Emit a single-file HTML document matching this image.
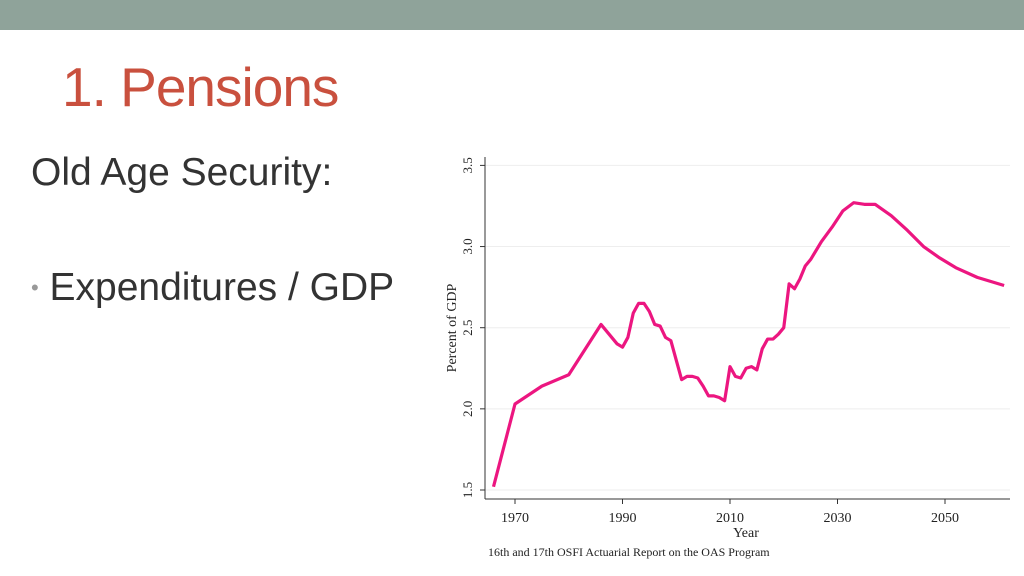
<!DOCTYPE html>
<html><head><meta charset="utf-8"><style>
body{margin:0;width:1024px;height:576px;background:#fff;position:relative;overflow:hidden;font-family:"Liberation Sans",sans-serif}
.bar{position:absolute;left:0;top:0;width:1024px;height:30px;background:#8fa39a}
.title{position:absolute;left:62px;top:55px;font-size:55px;color:#c9503e;letter-spacing:-1px}
.sub{position:absolute;left:31px;top:151px;font-size:39px;color:#333}
.bul{position:absolute;left:31px;top:266px;font-size:39px;color:#333}
svg{position:absolute;left:0;top:0}
svg text{font-family:"Liberation Serif",serif;fill:#222}
</style></head><body>
<div class="bar"></div>
<div class="title">1. Pensions</div>
<div class="sub">Old Age Security:</div>
<div class="bul"><span style="color:#999;font-size:22px;vertical-align:5px">•</span> Expenditures / GDP</div>
<svg id="chart" width="1024" height="576"></svg>
<script>
const years=[1966,1970,1975,1980,1986,1987,1989,1990,1991,1992,1993,1994,1995,1996,1997,1998,1999,2000,2001,2002,2003,2004,2005,2006,2007,2008,2009,2010,2011,2012,2013,2014,2015,2016,2017,2018,2019,2020,2021,2022,2023,2024,2025,2027,2029,2031,2033,2035,2037,2040,2043,2046,2049,2052,2056,2061];
const values=[1.52,2.03,2.14,2.21,2.52,2.48,2.40,2.38,2.44,2.59,2.65,2.65,2.60,2.52,2.51,2.44,2.42,2.30,2.18,2.20,2.20,2.19,2.14,2.08,2.08,2.07,2.05,2.26,2.20,2.19,2.25,2.26,2.24,2.37,2.43,2.43,2.46,2.50,2.77,2.74,2.80,2.88,2.92,3.03,3.12,3.22,3.27,3.26,3.26,3.19,3.10,3.00,2.93,2.87,2.81,2.76];
const yTicks=[1.5,2.0,2.5,3.0,3.5];
const xTicks=[1970,1990,2010,2030,2050];
const svg=document.getElementById('chart');
const NS='http://www.w3.org/2000/svg';
const X=v=>515+(v-1970)*5.375;
const Y=v=>490-(v-1.5)*162.3;
function mk(t,a){const e=document.createElementNS(NS,t);for(const k in a)e.setAttribute(k,a[k]);svg.appendChild(e);return e;}
yTicks.forEach(t=>{
  const g=mk('line',{x1:485,x2:1010,y1:Y(t),y2:Y(t),stroke:'#eee','stroke-width':1});
  
  
  const tk=mk('line',{x1:480,x2:485,y1:Y(t),y2:Y(t),stroke:'#333'});
  
  
  const lb=mk('text',{x:472,y:Y(t),'font-size':13,'text-anchor':'middle',transform:`rotate(-90 472 ${Y(t)})`});
  lb.textContent=t.toFixed(1);
  
  
});
xTicks.forEach(t=>{
  const tk=mk('line',{x1:X(t),x2:X(t),y1:499,y2:504,stroke:'#333'});
  
  
  const lb=mk('text',{x:X(t),y:522,'font-size':14,'text-anchor':'middle'});
  lb.textContent=t;
  
  
});
const ya=mk('line',{x1:485,x2:485,y1:157,y2:499,stroke:'#333'});


const xa=mk('line',{x1:485,x2:1010,y1:499,y2:499,stroke:'#333'});


const yt=mk('text',{x:456,y:328,'font-size':14,'text-anchor':'middle',transform:'rotate(-90 456 328)'});
yt.textContent='Percent of GDP';


const xt=mk('text',{x:746,y:537,'font-size':14,'text-anchor':'middle'});
xt.textContent='Year';


const note=mk('text',{x:488,y:556,'font-size':12});
note.textContent='16th and 17th OSFI Actuarial Report on the OAS Program';


const line=mk('polyline',{points:years.map((y,i)=>X(y)+','+Y(values[i])).join(' '),fill:'none',stroke:'#ec1680','stroke-width':3.2,'stroke-linejoin':'round'});


</script>
</body></html>
